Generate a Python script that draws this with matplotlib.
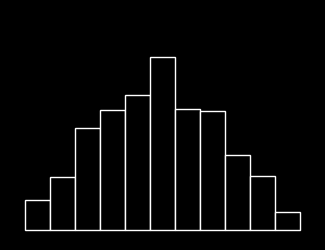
import numpy as np
import matplotlib
matplotlib.use('Agg')
import matplotlib.pyplot as plt

# bin index and count per bin
bins = np.arange(11)
counts = [30, 53, 102, 120, 135, 173, 121, 119, 75, 54, 18]

fig = plt.figure(figsize=(3.25, 2.5), dpi=100, facecolor="black")
ax = fig.add_axes([25 / 325, 20 / 250, 275 / 325, 230 / 250])
ax.set_facecolor("black")

bars = ax.bar(bins, counts, width=1.0, align="edge", facecolor="black",
              edgecolor="white", linewidth=1.0)
for b in bars:
    b.set_clip_on(False)

ax.set_xlim(0, 11)
ax.set_ylim(0, 230)
ax.axis("off")

fig.savefig("out.png", dpi=100, facecolor="black")
